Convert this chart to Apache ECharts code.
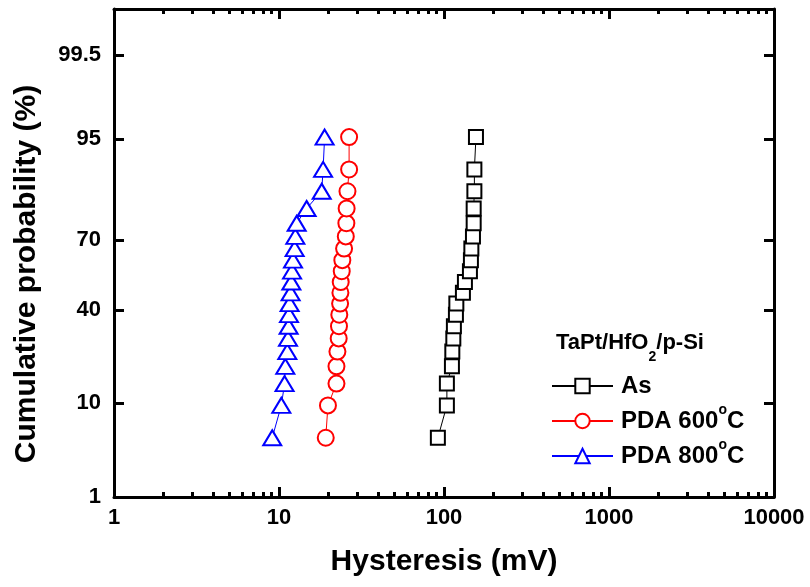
<!DOCTYPE html>
<html><head><meta charset="utf-8">
<script src="https://cdn.jsdelivr.net/npm/echarts@6/dist/echarts.min.js"></script>
<style>html,body{margin:0;padding:0;background:#fff}#c{width:810px;height:587px}</style>
</head><body><div id="c"></div>
<script>
// Cumulative probability (%) of each ranked point
const cumProb = [4.76, 9.52, 14.29, 19.05, 23.81, 28.57, 33.33, 38.10, 42.86, 47.62, 52.38, 57.14, 61.90, 66.67, 71.43, 76.19, 80.95, 85.71, 90.48, 95.24];
// Hysteresis (mV)
const hystAs = [91.8, 104.1, 104.1, 111.7, 112.3, 113.9, 114.8, 118.1, 118.8, 130.2, 133.9, 143.6, 145.6, 146.5, 149.8, 151.3, 151.3, 152.8, 152.8, 156.2];
const hyst600 = [19.2, 19.8, 22.3, 22.3, 22.6, 23.0, 23.1, 23.2, 23.46, 23.56, 23.66, 24.0, 24.2, 24.8, 25.4, 25.6, 25.7, 26.0, 26.6, 26.6];
const hyst800 = [9.1, 10.33, 10.81, 10.92, 11.23, 11.34, 11.44, 11.5, 11.6, 11.76, 11.88, 12.0, 12.16, 12.44, 12.56, 12.8, 14.7, 18.15, 18.5, 18.9];
const seriesNames = ['As', 'PDA 600°C', 'PDA 800°C'];
// Axis ticks
const yTickLabels = [1, 10, 40, 70, 95, 99.5];
const yRange = [1, 99.9];
const xMajor = [1, 10, 100, 1000, 10000];
const xMinor = [2,3,4,5,6,7,8,9,20,30,40,50,60,70,80,90,200,300,400,500,600,700,800,900,2000,3000,4000,5000,6000,7000,8000,9000];

// inverse normal CDF (probability scale)
function probit(p) {
  const a = [-3.969683028665376e+01, 2.209460984245205e+02, -2.759285104469687e+02, 1.383577518672690e+02, -3.066479806614716e+01, 2.506628277459239e+00];
  const b = [-5.447609879822406e+01, 1.615858368580409e+02, -1.556989798598866e+02, 6.680131188771972e+01, -1.328068155288572e+01];
  const c = [-7.784894002430293e-03, -3.223964580411365e-01, -2.400758277161838e+00, -2.549671348283479e+00, 4.374664141464968e+00, 2.938163982698783e+00];
  const d = [7.784695709041462e-03, 3.224671290700398e-01, 2.445134137142996e+00, 3.754408661907416e+00];
  const pl = 0.02425, ph = 1 - pl;
  let q, r;
  if (p < pl) { q = Math.sqrt(-2 * Math.log(p)); return (((((c[0]*q+c[1])*q+c[2])*q+c[3])*q+c[4])*q+c[5]) / ((((d[0]*q+d[1])*q+d[2])*q+d[3])*q+1); }
  if (p <= ph) { q = p - 0.5; r = q*q; return (((((a[0]*r+a[1])*r+a[2])*r+a[3])*r+a[4])*r+a[5])*q / (((((b[0]*r+b[1])*r+b[2])*r+b[3])*r+b[4])*r+1); }
  q = Math.sqrt(-2 * Math.log(1 - p)); return -(((((c[0]*q+c[1])*q+c[2])*q+c[3])*q+c[4])*q+c[5]) / ((((d[0]*q+d[1])*q+d[2])*q+d[3])*q+1);
}
const pz = v => probit(v / 100);

const FONT = "'Liberation Sans', Arial, Helvetica, sans-serif";
const yTickVals = yTickLabels.map(pz);
function yLabel(v) {
  let best = 0, bd = Infinity;
  yTickVals.forEach((t, i) => { const dd = Math.abs(t - v); if (dd < bd) { bd = dd; best = i; } });
  return String(yTickLabels[best]);
}

const chart = echarts.init(document.getElementById('c'), null, {renderer: 'canvas'});
const axisLineOn = {show: true, onZero: false, lineStyle: {color: '#000', width: 3}};
const labelStyle = {fontSize: 22, fontWeight: 'bold', color: '#000', fontFamily: FONT};

function xAx(pos, minor, withLabel) {
  return {
    type: 'log', logBase: 10, min: 1, max: 10000, position: pos, gridIndex: 0,
    axisLine: minor ? {show: false, onZero: false} : axisLineOn,
    axisTick: {show: true, inside: true, length: minor ? 5 : 10, lineStyle: {color: '#000', width: 3}, customValues: minor ? xMinor : xMajor},
    axisLabel: withLabel ? Object.assign({show: true, margin: 10, customValues: xMajor, formatter: v => String(Math.round(v))}, labelStyle) : {show: false},
    splitLine: {show: false}, minorTick: {show: false},
    name: withLabel ? 'Hysteresis (mV)' : '', nameLocation: 'middle', nameGap: 50,
    nameTextStyle: {fontSize: 30, fontWeight: 'bold', color: '#000', fontFamily: FONT}
  };
}
function yAx(pos, withLabel) {
  return {
    type: 'value', min: pz(yRange[0]), max: pz(yRange[1]), position: pos, gridIndex: 0,
    axisLine: axisLineOn,
    axisTick: {show: true, inside: true, length: 10, lineStyle: {color: '#000', width: 3}, customValues: yTickVals},
    axisLabel: withLabel ? Object.assign({show: true, margin: 13, customValues: yTickVals, formatter: yLabel}, labelStyle) : {show: false},
    splitLine: {show: false},
    name: withLabel ? 'Cumulative probability (%)' : '', nameLocation: 'middle', nameGap: 72,
    nameTextStyle: {fontSize: 30, fontWeight: 'bold', color: '#000', fontFamily: FONT, padding: [0, 42, 0, 0]}
  };
}

function mk(name, xs, color, symbol, size) {
  return {
    name: name, type: 'line', xAxisIndex: 0, yAxisIndex: 0,
    data: xs.map((x, i) => [x, pz(cumProb[i])]),
    symbol: symbol, symbolSize: size, showAllSymbol: true,
    lineStyle: {color: color, width: 1},
    itemStyle: {color: color, borderWidth: 1.6},
    emphasis: {disabled: true}, animation: false, z: 3
  };
}

chart.setOption({
  animation: false,
  backgroundColor: '#fff',
  grid: {left: 114, right: 36, top: 9, bottom: 90, containLabel: false},
  title: {
    text: '{a|TaPt/HfO}{s|2}{a|/p-Si}', left: 551, top: 325,
    textStyle: {rich: {
      a: {fontSize: 22, fontWeight: 'bold', color: '#000', fontFamily: FONT, lineHeight: 26},
      s: {fontSize: 14, fontWeight: 'bold', color: '#000', fontFamily: FONT, verticalAlign: 'bottom', lineHeight: 14, padding: [0, 0, -8, 0]}
    }}
  },
  legend: {
    orient: 'vertical', left: 551, top: 374, itemWidth: 61, itemHeight: 18, itemGap: 5, padding: 0,
    data: seriesNames,
    formatter: n => n.indexOf('°') >= 0 ? '{n|' + n.replace('°C', '') + '}{s|o}{n|C}' : '{n|' + n + '}',
    textStyle: {padding: [0, 0, 0, 3], rich: {
      n: {fontSize: 24, fontWeight: 'bold', color: '#000', fontFamily: FONT, lineHeight: 24},
      s: {fontSize: 14, fontWeight: 'bold', color: '#000', fontFamily: FONT, verticalAlign: 'top', lineHeight: 12, padding: [-6, 0, 0, 0]}
    }}
  },
  xAxis: [xAx('bottom', false, true), xAx('bottom', true, false), xAx('top', false, false), xAx('top', true, false)],
  yAxis: [yAx('left', true), yAx('right', false)],
  series: [
    mk(seriesNames[0], hystAs, '#000000', 'emptyRect', 14),
    mk(seriesNames[1], hyst600, '#ff0000', 'emptyCircle', 16),
    mk(seriesNames[2], hyst800, '#0000ff', 'emptyTriangle', [18, 15])
  ]
});
</script></body></html>
